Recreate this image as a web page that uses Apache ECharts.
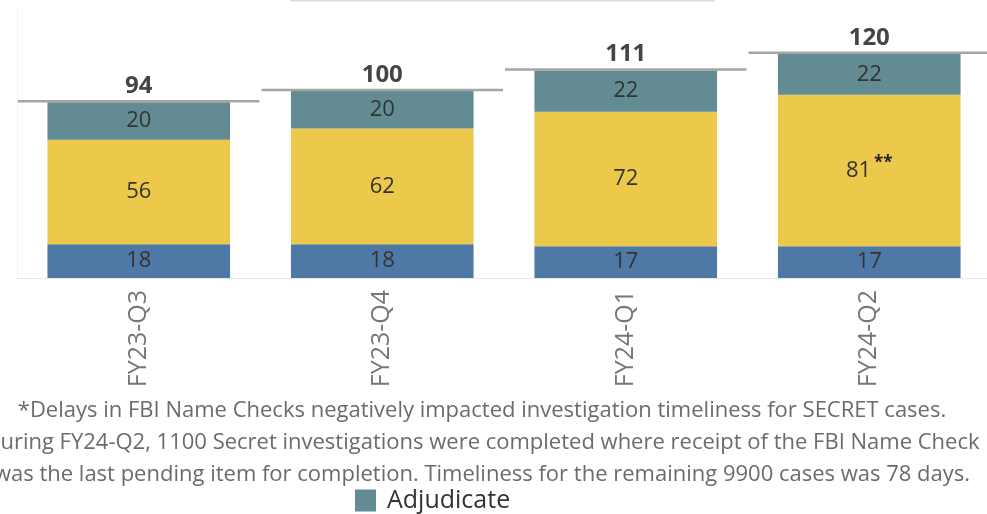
<!DOCTYPE html>
<html>
<head>
<meta charset="utf-8">
<script src="https://cdn.jsdelivr.net/npm/echarts@6/dist/echarts.min.js"></script>
<style>
html,body{margin:0;padding:0;background:#fff}
#chart{width:987px;height:514px}
</style>
</head>
<body>
<div id="chart"></div>
<script>
const quarters = ['FY23-Q3', 'FY23-Q4', 'FY24-Q1', 'FY24-Q2']
const initiate = [18, 18, 17, 17]
const investigate = [56, 62, 72, 81]
const adjudicate = [20, 20, 22, 22]
const totals = [94, 100, 111, 120]
const footnote = [
    '*Delays in FBI Name Checks negatively impacted investigation timeliness for SECRET cases.',
    'During FY24-Q2, 1100 Secret investigations were completed where receipt of the FBI Name Check',
    'was the last pending item for completion. Timeliness for the remaining 9900 cases was 78 days.'
]

const font = '"Open Sans", sans-serif'
const segLabel = {
    show: true,
    position: 'inside',
    fontSize: 22,
    color: '#333',
    fontFamily: font
}

const chart = echarts.init(document.getElementById('chart'))
const option = {
    animation: false,
    textStyle: { fontFamily: font },
    grid: { left: 17, width: 974, top: 7, height: 271, outerBoundsMode: 'none' },
    legend: {
        data: [{ name: 'Adjudicate', icon: 'rect' }],
        left: 355,
        top: 488,
        padding: 0,
        itemWidth: 21,
        itemHeight: 22,
        textStyle: { fontSize: 25, color: '#333', fontFamily: font, padding: [0, 0, 0, 6] }
    },
    xAxis: {
        type: 'category',
        data: quarters,
        axisLine: { lineStyle: { color: '#e6e6e6' } },
        axisTick: { length: 12, lineStyle: { color: '#e6e6e6' } },
        axisLabel: { rotate: 90, fontSize: 25, color: '#777', margin: 12 }
    },
    yAxis: {
        type: 'value',
        min: 0,
        max: 145,
        axisLine: { show: true, lineStyle: { color: '#f0f0f0' } },
        axisLabel: { show: false },
        axisTick: { show: false },
        splitLine: { show: false }
    },
    series: [
        {
            name: 'Initiate', type: 'bar', stack: 'all', barWidth: '75%',
            data: initiate, itemStyle: { color: '#4e79a7' }, label: segLabel
        },
        {
            name: 'Investigate', type: 'bar', stack: 'all',
            data: investigate, itemStyle: { color: '#ecc94a' },
            label: Object.assign({}, segLabel, {
                formatter: p => p.dataIndex === 3 ? '{v|' + p.value + '}{s|**}' : String(p.value),
                rich: {
                    v: { fontSize: 22, color: '#333', fontFamily: font },
                    s: { fontSize: 17, fontWeight: 'bold', color: '#222', padding: [0, 0, 14, 3] }
                }
            })
        },
        {
            name: 'Adjudicate', type: 'bar', stack: 'all',
            data: adjudicate, itemStyle: { color: '#638b93' }, label: segLabel
        },
        {
            name: 'Total',
            type: 'custom',
            z: 5,
            data: totals.map((v, i) => [i, v]),
            renderItem(params, api) {
                const p = api.coord([api.value(0), api.value(1)])
                const w = api.size([1, 0])[0]
                return {
                    type: 'group',
                    children: [
                        {
                            type: 'line',
                            shape: { x1: p[0] - w / 2 + 1, y1: p[1] - 1, x2: p[0] + w / 2 - 1, y2: p[1] - 1 },
                            style: { stroke: '#a5a5a5', lineWidth: 2.5 }
                        },
                        {
                            type: 'text',
                            x: p[0],
                            y: p[1] - 16,
                            style: {
                                text: String(api.value(1)),
                                fill: '#454545',
                                font: 'bold 24px "Open Sans", sans-serif',
                                align: 'center',
                                verticalAlign: 'middle'
                            }
                        }
                    ]
                }
            }
        }
    ],
    graphic: [
        {
            type: 'line',
            shape: { x1: 290, y1: 0.5, x2: 715, y2: 0.5 },
            style: { stroke: '#dddddd', lineWidth: 2 }
        }
    ].concat(footnote.map((t, i) => ({
        type: 'text',
        x: 482,
        y: 411 + i * 32,
        style: {
            text: t,
            fill: '#6b6b6b',
            font: '22px "Open Sans", sans-serif',
            align: 'center',
            verticalAlign: 'middle'
        }
    })))
}
chart.setOption(option)
</script>
</body>
</html>
